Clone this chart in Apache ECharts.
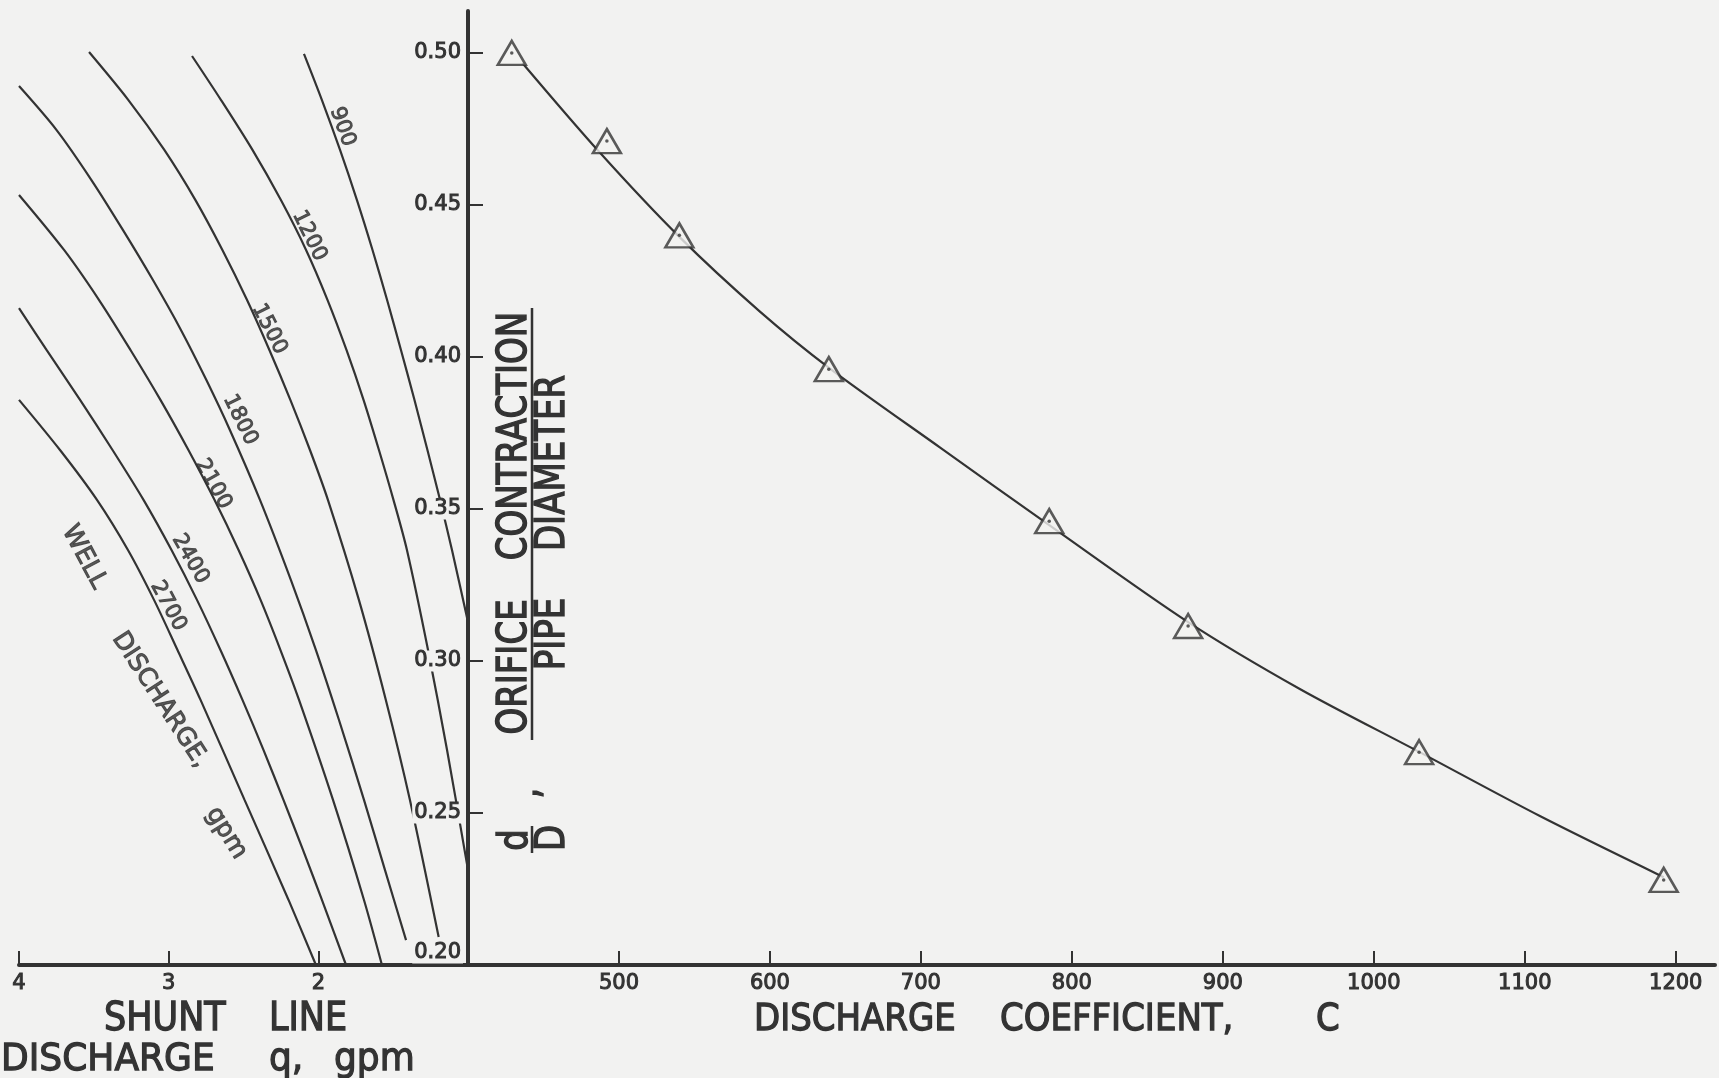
<!DOCTYPE html>
<html lang="en">

<head>
  <meta charset="UTF-8" />
  <title>Discharge coefficient vs orifice ratio</title>
  <script src="https://cdn.jsdelivr.net/npm/echarts@6/dist/echarts.min.js"></script>
  <style>
    html,
    body {
      margin: 0;
      padding: 0;
      background: #f2f2f1;
    }

    #chart {
      width: 1719px;
      height: 1078px;
    }
  </style>
</head>

<body>
  <div id="chart"></div>
</body>
<script type="text/javascript">
  // ---- data ----
  var coefTicks = [500, 600, 700, 800, 900, 1000, 1100, 1200];
  var shuntTicks = [2, 3, 4];
  var ratioTicks = [0.20, 0.25, 0.30, 0.35, 0.40, 0.45, 0.50];

  // test points (triangles): discharge coefficient C, d/D
  var testC = [429, 492, 540, 639, 785, 877, 1030, 1192];
  var testRatio = [0.500, 0.471, 0.440, 0.396, 0.346, 0.3115, 0.270, 0.228];

  // faired curve through the tests
  var fitC = [436, 487, 540, 593, 640, 713, 785, 877, 951, 1030, 1110, 1192];
  var fitRatio = [0.4967, 0.4674, 0.4395, 0.4151, 0.3961, 0.3701, 0.3447, 0.3128, 0.2908, 0.2701, 0.249, 0.2289];

  // well discharge curves, [shunt q gpm, d/D]
  var wellRates = ['900', '1200', '1500', '1800', '2100', '2400', '2700'];
  var well900 = [[2.096, 0.4997], [1.976, 0.4845], [1.855, 0.4681], [1.742, 0.4516], [1.638, 0.4352], [1.541, 0.4188],
    [1.448, 0.4023], [1.358, 0.3859], [1.271, 0.3694], [1.187, 0.353], [1.107, 0.3365], [1.0, 0.3128]];
  var well1200 = [[2.844, 0.499], [2.650, 0.4845], [2.440, 0.4681], [2.250, 0.4516], [2.082, 0.4352], [1.939, 0.4188],
    [1.812, 0.4023], [1.698, 0.3859], [1.595, 0.3694], [1.498, 0.353], [1.408, 0.3365], [1.267, 0.3036], [1.140, 0.2707], [1.0, 0.2313]];
  var well1500 = [[3.532, 0.5003], [3.269, 0.4845], [3.029, 0.4681], [2.821, 0.4516], [2.641, 0.4352], [2.477, 0.4188],
    [2.327, 0.4023], [2.187, 0.3859], [2.056, 0.3694], [1.936, 0.353], [1.729, 0.3201], [1.549, 0.2872], [1.388, 0.2543], [1.196, 0.2092]];
  var well1800 = [[4.0, 0.4891], [3.750, 0.4747], [3.516, 0.4582], [3.306, 0.4418], [3.105, 0.4253], [2.918, 0.4089],
    [2.748, 0.3924], [2.591, 0.376], [2.390, 0.353], [2.183, 0.3266], [2.016, 0.3036], [1.862, 0.2806], [1.695, 0.2543],
    [1.555, 0.2313], [1.414, 0.2082]];
  var well2100 = [[4.0, 0.4533], [3.699, 0.4352], [3.466, 0.4188], [3.255, 0.4023], [3.055, 0.3859], [2.868, 0.3694],
    [2.694, 0.353], [2.533, 0.3365], [2.386, 0.3201], [2.253, 0.3036], [2.129, 0.2872], [1.902, 0.2543], [1.695, 0.2214], [1.575, 0.200]];
  var well2400 = [[4.0, 0.4161], [3.816, 0.4023], [3.592, 0.3859], [3.375, 0.3694], [3.168, 0.353], [2.981, 0.3365],
    [2.811, 0.3201], [2.654, 0.3036], [2.507, 0.2872], [2.366, 0.2707], [2.233, 0.2543], [2.102, 0.2378], [1.976, 0.2214], [1.815, 0.200]];
  var well2700 = [[4.0, 0.3859], [3.726, 0.3694], [3.479, 0.353], [3.272, 0.3365], [3.098, 0.3201], [2.941, 0.3036],
    [2.787, 0.2872], [2.493, 0.2543], [2.199, 0.2214], [2.016, 0.200]];

  // ---- look ----
  var paper = '#f2f2f1';
  var ink = '#333333';
  var face = 'DejaVu Sans';

  var myChart = echarts.init(document.getElementById('chart'));

  // where the curve numbers sit (data coords) and their slant
  var curveTags = [
    [1.839, 0.4757, -70],
    [2.060, 0.4398, -64],
    [2.328, 0.4092, -63],
    [2.522, 0.3793, -64],
    [2.702, 0.3582, -61],
    [2.856, 0.3336, -60],
    [3.003, 0.3181, -62]
  ];
  var wellNotes = [
    [3.565, 0.3342, 'WELL', -62],
    [3.057, 0.2872, 'DISCHARGE,', -57],
    [2.615, 0.2434, 'gpm', -58]
  ];

  var wellCurves = [well900, well1200, well1500, well1800, well2100, well2400, well2700];

  function pairs(xs, ys) {
    return xs.map(function (x, i) { return [x, ys[i]]; });
  }

  // slightly heavier strokes, like the lettering on the plate
  var heavy = { textBorderColor: ink, textBorderWidth: 1 };

  var tickLabel = Object.assign({ color: ink, fontFamily: face, fontSize: 21 }, heavy);

  var series = wellCurves.map(function (pts) {
    return {
      type: 'line',
      xAxisIndex: 0,
      yAxisIndex: 0,
      data: pts,
      smooth: 0.3,
      symbol: 'none',
      silent: true,
      lineStyle: { color: ink, width: 2.2 }
    };
  });

  series.push({
    type: 'scatter',
    xAxisIndex: 0,
    yAxisIndex: 0,
    symbolSize: 0,
    silent: true,
    data: curveTags.map(function (t, i) {
      return {
        value: [t[0], t[1]],
        label: { formatter: wellRates[i], rotate: t[2] }
      };
    }),
    label: Object.assign({ show: true, position: 'inside', color: ink, fontFamily: face, fontSize: 21 }, heavy)
  });

  series.push({
    type: 'scatter',
    xAxisIndex: 0,
    yAxisIndex: 0,
    symbolSize: 0,
    silent: true,
    data: wellNotes.map(function (t) {
      return { value: [t[0], t[1]], label: { formatter: t[2], rotate: t[3] } };
    }),
    label: Object.assign({ show: true, position: 'inside', color: ink, fontFamily: face, fontSize: 25 }, heavy)
  });

  // faired curve
  series.push({
    type: 'line',
    xAxisIndex: 1,
    yAxisIndex: 1,
    data: pairs(fitC, fitRatio),
    smooth: 0.3,
    symbol: 'none',
    silent: true,
    lineStyle: { color: ink, width: 2.2 }
  });

  // test triangles with the centre dot
  series.push({
    type: 'scatter',
    xAxisIndex: 1,
    yAxisIndex: 1,
    data: pairs(testC, testRatio),
    symbol: 'triangle',
    symbolSize: [28, 24],
    silent: true,
    z: 4,
    itemStyle: { color: paper, borderColor: ink, borderWidth: 2.5 }
  });
  series.push({
    type: 'scatter',
    xAxisIndex: 1,
    yAxisIndex: 1,
    data: pairs(testC, testRatio),
    symbol: 'circle',
    symbolSize: 3.5,
    silent: true,
    z: 5,
    itemStyle: { color: ink }
  });

  function word(text, x, y, size, extra) {
    var el = {
      type: 'text',
      x: x,
      y: y,
      silent: true,
      style: {
        text: text,
        fontSize: size,
        fontFamily: face,
        fill: ink,
        stroke: ink,
        lineWidth: 1.2,
        align: 'left',
        verticalAlign: 'middle'
      }
    };
    return Object.assign(el, extra || {});
  }

  // rotated words of the y title, reading upward
  function upWord(text, x, y) {
    var el = word(text, x, y, 34, { rotation: Math.PI / 2, scaleY: 1.2 });
    el.style.align = 'center';
    return el;
  }

  function bar(x, y1, y2) {
    return {
      type: 'line',
      silent: true,
      shape: { x1: x, y1: y1, x2: x, y2: y2 },
      style: { stroke: ink, lineWidth: 2.5 }
    };
  }

  var graphics = [
    // bottom right title
    word('DISCHARGE', 754, 1020, 34, { scaleY: 1.1 }),
    word('COEFFICIENT,', 1000, 1020, 34, { scaleY: 1.1 }),
    word('C', 1316, 1020, 34, { scaleY: 1.1 }),
    // bottom left title
    word('SHUNT', 104, 1020, 35, { scaleY: 1.1 }),
    word('LINE', 269, 1020, 35, { scaleY: 1.1 }),
    word('DISCHARGE', 1, 1060, 36, { scaleY: 1.05 }),
    word('q,', 269, 1060, 36, { scaleY: 1.05 }),
    word('gpm', 334, 1060, 36, { scaleY: 1.05 }),
    // d/D , ORIFICE CONTRACTION / PIPE DIAMETER
    upWord('d', 516, 840),
    upWord('D', 553, 838),
    bar(532, 826, 853),
    upWord(',', 527, 793),
    upWord('ORIFICE', 515, 667),
    upWord('CONTRACTION', 515, 436),
    upWord('PIPE', 553, 634),
    upWord('DIAMETER', 553, 463),
    bar(532, 308, 740)
  ];

  var option = {
    animation: false,
    backgroundColor: paper,
    grid: [
      { left: 19, right: 1251, top: 11, bottom: 113, containLabel: false, outerBoundsMode: 'none' },
      { left: 468, right: 4, top: 11, bottom: 113, containLabel: false, outerBoundsMode: 'none' }
    ],
    xAxis: [
      {
        gridIndex: 0,
        type: 'value',
        inverse: true,
        min: 1,
        max: 4,
        splitLine: { show: false },
        axisLine: { onZero: false, lineStyle: { color: ink, width: 4 } },
        axisTick: { inside: true, length: 14, customValues: shuntTicks, lineStyle: { color: ink, width: 2 } },
        axisLabel: Object.assign({ margin: 8, customValues: shuntTicks, formatter: String }, tickLabel)
      },
      {
        gridIndex: 1,
        type: 'value',
        min: 400,
        max: 1226,
        splitLine: { show: false },
        axisLine: { onZero: false, lineStyle: { color: ink, width: 4 } },
        axisTick: { inside: true, length: 14, customValues: coefTicks, lineStyle: { color: ink, width: 2 } },
        axisLabel: Object.assign({
          margin: 8,
          customValues: coefTicks,
          formatter: function (v) { return String(v); }
        }, tickLabel)
      }
    ],
    yAxis: [
      { gridIndex: 0, type: 'value', min: 0.2, max: 0.5138, show: false },
      {
        gridIndex: 1,
        type: 'value',
        min: 0.2,
        max: 0.5138,
        z: 10,
        splitLine: { show: false },
        axisLine: { onZero: false, lineStyle: { color: ink, width: 4 } },
        axisTick: { inside: true, length: 15, customValues: ratioTicks.slice(1), lineStyle: { color: ink, width: 2 } },
        axisLabel: {
          margin: 5,
          customValues: ratioTicks,
          formatter: function (v) {
            var s = v.toFixed(2);
            // 0.20 sits just above the base line
            return v < 0.21 ? '{n|' + s + '}\n{sp| }' : '{n|' + s + '}';
          },
          rich: {
            n: Object.assign({ color: ink, fontFamily: face, fontSize: 21, lineHeight: 24, backgroundColor: paper, padding: [0, 2] }, heavy),
            sp: { fontSize: 10, lineHeight: 24 }
          }
        }
      }
    ],
    series: series,
    graphic: graphics
  };

  myChart.setOption(option);
</script>

</html>
